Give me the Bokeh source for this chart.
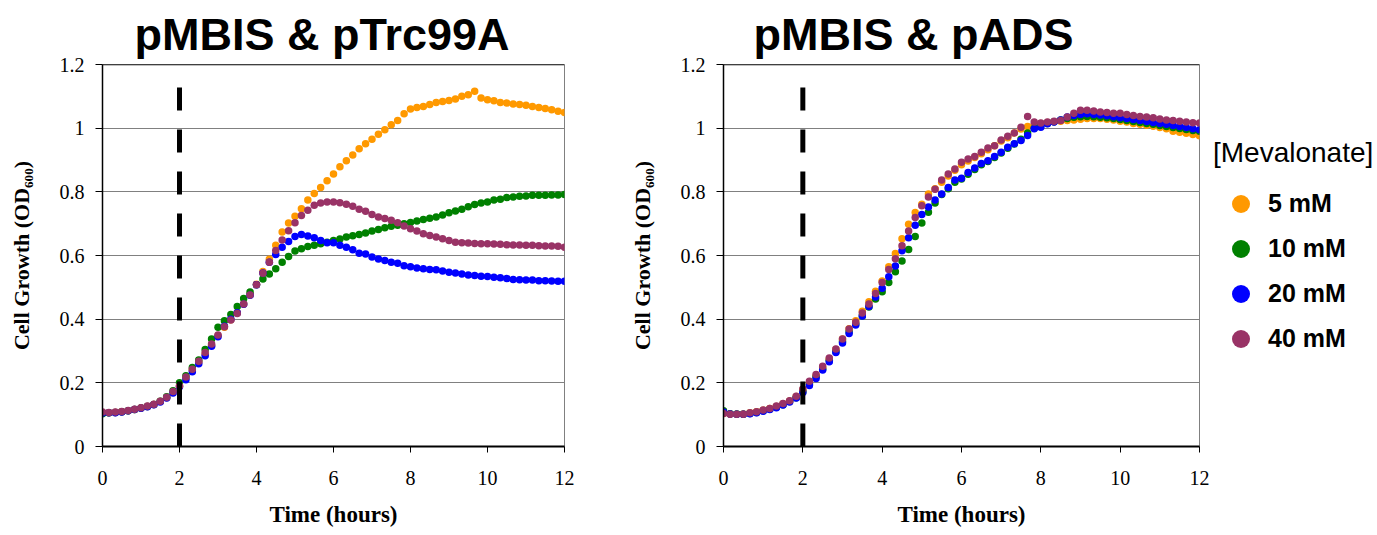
from bokeh.plotting import figure
from bokeh.layouts import row
from bokeh.models import Legend, LegendItem, FixedTicker, Range1d, Span
from bokeh.embed import file_html
from bokeh.resources import INLINE

# one reading every 10 minutes, 0 to 12 h
sample_minutes = list(range(0, 721, 10))
hours = [m / 60 for m in sample_minutes]

conc_labels = ["5 mM", "10 mM", "20 mM", "40 mM"]
colors = ["#FF9900", "#008000", "#0000FF", "#993366"]

# ---- pMBIS & pTrc99A (OD600) ----
trc_5mM = [0.106, 0.106, 0.107, 0.109, 0.112, 0.116, 0.121, 0.126, 0.132, 0.141, 0.153, 0.170,
           0.190, 0.215, 0.240, 0.265, 0.290, 0.318, 0.348, 0.375, 0.398, 0.420, 0.448, 0.478,
           0.510, 0.550, 0.588, 0.632, 0.674, 0.702, 0.723, 0.747, 0.774, 0.795, 0.814, 0.835,
           0.856, 0.879, 0.898, 0.916, 0.935, 0.951, 0.965, 0.981, 0.995, 1.011, 1.024, 1.045,
           1.060, 1.065, 1.068, 1.074, 1.081, 1.084, 1.087, 1.092, 1.100, 1.105, 1.116, 1.095,
           1.089, 1.086, 1.081, 1.079, 1.076, 1.074, 1.072, 1.068, 1.065, 1.062, 1.058, 1.053, 1.049]
trc_10mM = [0.103, 0.106, 0.107, 0.109, 0.112, 0.116, 0.121, 0.126, 0.132, 0.142, 0.156, 0.175,
            0.200, 0.222, 0.248, 0.272, 0.305, 0.338, 0.375, 0.395, 0.415, 0.440, 0.465, 0.485,
            0.508, 0.526, 0.542, 0.558, 0.579, 0.597, 0.614, 0.621, 0.628, 0.632, 0.637, 0.642,
            0.647, 0.652, 0.658, 0.662, 0.666, 0.671, 0.677, 0.682, 0.687, 0.692, 0.695, 0.700,
            0.704, 0.708, 0.713, 0.717, 0.721, 0.727, 0.734, 0.740, 0.745, 0.753, 0.760, 0.765,
            0.768, 0.774, 0.777, 0.782, 0.784, 0.786, 0.787, 0.789, 0.789, 0.789, 0.790, 0.790, 0.792]
trc_20mM = [0.105, 0.106, 0.106, 0.108, 0.112, 0.116, 0.120, 0.125, 0.131, 0.140, 0.152, 0.168,
            0.188, 0.210, 0.235, 0.260, 0.285, 0.315, 0.345, 0.378, 0.400, 0.420, 0.447, 0.475,
            0.508, 0.545, 0.579, 0.603, 0.626, 0.644, 0.660, 0.666, 0.661, 0.656, 0.647, 0.640,
            0.640, 0.632, 0.626, 0.618, 0.607, 0.605, 0.595, 0.589, 0.584, 0.579, 0.576, 0.568,
            0.565, 0.561, 0.558, 0.556, 0.555, 0.551, 0.547, 0.545, 0.542, 0.539, 0.537, 0.535,
            0.534, 0.532, 0.530, 0.528, 0.525, 0.524, 0.523, 0.523, 0.521, 0.521, 0.520, 0.519, 0.519]
trc_40mM = [0.108, 0.107, 0.108, 0.110, 0.113, 0.117, 0.122, 0.127, 0.133, 0.142, 0.155, 0.173,
            0.190, 0.218, 0.243, 0.268, 0.295, 0.322, 0.350, 0.376, 0.397, 0.418, 0.448, 0.476,
            0.508, 0.544, 0.579, 0.616, 0.649, 0.678, 0.703, 0.726, 0.742, 0.758, 0.765, 0.768,
            0.768, 0.766, 0.761, 0.755, 0.745, 0.739, 0.729, 0.721, 0.716, 0.711, 0.703, 0.693,
            0.684, 0.677, 0.668, 0.663, 0.658, 0.653, 0.647, 0.642, 0.640, 0.639, 0.638, 0.637,
            0.637, 0.636, 0.635, 0.634, 0.633, 0.633, 0.632, 0.632, 0.631, 0.630, 0.630, 0.629, 0.626]

# ---- pMBIS & pADS (OD600) ----
ads_5mM = [0.104, 0.102, 0.101, 0.102, 0.106, 0.109, 0.114, 0.119, 0.126, 0.134, 0.143, 0.157,
           0.178, 0.200, 0.222, 0.248, 0.275, 0.305, 0.338, 0.370, 0.395, 0.425, 0.455, 0.488,
           0.520, 0.565, 0.606, 0.653, 0.698, 0.735, 0.761, 0.793, 0.810, 0.830, 0.850, 0.868,
           0.885, 0.897, 0.908, 0.920, 0.932, 0.945, 0.960, 0.970, 0.985, 0.997, 1.005, 1.010,
           1.015, 1.018, 1.020, 1.022, 1.024, 1.026, 1.028, 1.030, 1.030, 1.030, 1.028, 1.026,
           1.022, 1.019, 1.015, 1.012, 1.009, 1.006, 1.002, 0.998, 0.990, 0.987, 0.984, 0.980, 0.976]
ads_10mM = [0.112, 0.103, 0.102, 0.101, 0.104, 0.107, 0.112, 0.117, 0.123, 0.131, 0.141, 0.153,
            0.172, 0.196, 0.218, 0.243, 0.270, 0.298, 0.330, 0.360, 0.385, 0.410, 0.438, 0.463,
            0.486, 0.515, 0.549, 0.583, 0.619, 0.660, 0.702, 0.736, 0.765, 0.792, 0.810, 0.830,
            0.840, 0.855, 0.870, 0.885, 0.895, 0.908, 0.922, 0.937, 0.950, 0.965, 0.985, 1.000,
            1.008, 1.015, 1.020, 1.026, 1.030, 1.034, 1.036, 1.037, 1.036, 1.034, 1.033, 1.030,
            1.027, 1.024, 1.021, 1.018, 1.015, 1.012, 1.008, 1.005, 1.002, 0.999, 0.996, 0.993, 0.990]
ads_20mM = [0.108, 0.102, 0.101, 0.101, 0.103, 0.106, 0.111, 0.116, 0.122, 0.130, 0.140, 0.152,
            0.170, 0.192, 0.214, 0.240, 0.266, 0.295, 0.325, 0.355, 0.382, 0.410, 0.440, 0.470,
            0.497, 0.533, 0.567, 0.615, 0.656, 0.695, 0.729, 0.752, 0.774, 0.793, 0.814, 0.837,
            0.843, 0.861, 0.875, 0.889, 0.898, 0.911, 0.924, 0.940, 0.951, 0.961, 0.977, 0.998,
            1.003, 1.014, 1.019, 1.026, 1.035, 1.040, 1.043, 1.045, 1.043, 1.041, 1.039, 1.036,
            1.033, 1.030, 1.027, 1.024, 1.021, 1.018, 1.015, 1.012, 1.008, 1.005, 1.002, 0.998, 0.995]
ads_40mM = [0.104, 0.101, 0.101, 0.101, 0.106, 0.109, 0.115, 0.119, 0.127, 0.135, 0.144, 0.158,
            0.181, 0.205, 0.226, 0.252, 0.278, 0.306, 0.338, 0.369, 0.390, 0.419, 0.448, 0.481,
            0.515, 0.556, 0.590, 0.631, 0.677, 0.719, 0.756, 0.784, 0.808, 0.837, 0.856, 0.872,
            0.893, 0.903, 0.911, 0.924, 0.938, 0.945, 0.963, 0.975, 0.985, 1.003, 1.037, 1.019,
            1.016, 1.019, 1.022, 1.024, 1.035, 1.047, 1.056, 1.056, 1.054, 1.051, 1.049, 1.047,
            1.047, 1.043, 1.040, 1.037, 1.035, 1.033, 1.029, 1.026, 1.024, 1.022, 1.019, 1.017, 1.016]

x_ticks = [0, 2, 4, 6, 8, 10, 12]
x_tick_labels = ["0", "2", "4", "6", "8", "10", "12"]
y_ticks = [0, 0.2, 0.4, 0.6, 0.8, 1.0, 1.2]
y_tick_labels = ["0", "0.2", "0.4", "0.6", "0.8", "1", "1.2"]
induction_time_h = 2
induction_line_top = 1.185

titles = ["pMBIS & pTrc99A", "pMBIS & pADS"]
y_label = "Cell Growth (OD\u2086\u2080\u2080)"
x_label = "Time (hours)"
legend_title = "[Mevalonate]"

for s in (trc_5mM, trc_10mM, trc_20mM, trc_40mM, ads_5mM, ads_10mM, ads_20mM, ads_40mM):
    assert len(s) == len(hours), len(s)

SANS = "Liberation Sans"
SERIF = "Liberation Serif"
FIG_H = 534


def make_panel(title, series, width, bl, br, bt, frame_h, title_offset):
    p = figure(width=width, height=FIG_H,
               x_range=Range1d(x_ticks[0], x_ticks[-1]),
               y_range=Range1d(y_ticks[0], y_ticks[-1]),
               output_backend="svg", toolbar_location=None,
               min_border_left=bl, min_border_right=br, min_border_top=bt,
               min_border_bottom=FIG_H - bt - frame_h)
    p.background_fill_color = "white"
    p.border_fill_color = "white"
    p.outline_line_color = "#808080"
    p.outline_line_width = 1

    p.title.text = title
    p.title.text_font = SANS
    p.title.text_font_size = "45px"
    p.title.text_font_style = "bold"
    p.title.text_color = "black"
    p.title.align = "left"
    p.title.offset = title_offset
    p.title.standoff = 9

    p.xgrid.visible = False
    p.ygrid.ticker = FixedTicker(ticks=y_ticks)
    p.ygrid.grid_line_color = "#808080"
    p.ygrid.grid_line_width = 1
    p.add_layout(Span(location=y_ticks[-1], dimension="width", line_color="black", line_width=1.5))

    xa = p.xaxis[0]
    xa.ticker = FixedTicker(ticks=x_ticks)
    xa.major_label_overrides = {t: l for t, l in zip(x_ticks, x_tick_labels)}
    xa.axis_line_color = "black"
    xa.axis_line_width = 2
    xa.major_tick_line_color = "black"
    xa.major_tick_out = 6
    xa.major_tick_in = 0
    xa.minor_tick_line_color = None
    xa.major_label_text_font = SERIF
    xa.major_label_text_font_size = "20px"
    xa.major_label_text_color = "black"
    xa.major_label_standoff = 18
    xa.axis_label = x_label
    xa.axis_label_text_font = SERIF
    xa.axis_label_text_font_size = "23px"
    xa.axis_label_text_font_style = "bold"
    xa.axis_label_text_color = "black"
    xa.axis_label_standoff = 14

    ya = p.yaxis[0]
    ya.ticker = FixedTicker(ticks=y_ticks)
    ya.major_label_overrides = {t: l for t, l in zip(y_ticks, y_tick_labels)}
    ya.axis_line_color = "black"
    ya.axis_line_width = 1.5
    ya.major_tick_line_color = "black"
    ya.major_tick_out = 7
    ya.major_tick_in = 0
    ya.minor_tick_line_color = None
    ya.major_label_text_font = SERIF
    ya.major_label_text_font_size = "20px"
    ya.major_label_text_color = "black"
    ya.major_label_standoff = 11
    ya.axis_label = y_label
    ya.axis_label_text_font = SERIF
    ya.axis_label_text_font_size = "22px"
    ya.axis_label_text_font_style = "bold"
    ya.axis_label_text_color = "black"
    ya.axis_label_standoff = 23

    renderers = []
    for vals, c in zip(series, colors):
        r = p.scatter(hours, vals, size=7.5, fill_color=c, line_color=None)
        renderers.append(r)

    p.line([induction_time_h, induction_time_h], [y_ticks[0], induction_line_top],
           line_color="black", line_width=5, line_dash="23 19")
    return p, renderers


p1, _ = make_panel(titles[0], [trc_5mM, trc_10mM, trc_20mM, trc_40mM],
                   width=620, bl=102, br=56, bt=64, frame_h=382, title_offset=32)
p2, _ = make_panel(titles[1], [ads_5mM, ads_10mM, ads_20mM, ads_40mM],
                   width=590, bl=103, br=11, bt=63, frame_h=384, title_offset=30)

# legend panel: key for the concentration colours (same pADS series, drawn off-range)
p3 = figure(width=167, height=FIG_H, x_range=Range1d(-20, -19), y_range=Range1d(-20, -19),
            x_axis_location=None, y_axis_location=None,
            output_backend="svg", toolbar_location=None,
            min_border_left=0, min_border_right=0, min_border_top=0, min_border_bottom=0)
p3.outline_line_color = None
p3.grid.visible = False
p3.background_fill_color = "white"
p3.border_fill_color = "white"
key_renderers = [p3.scatter(hours, vals, fill_color=c, line_color=None)
                 for vals, c in zip([ads_5mM, ads_10mM, ads_20mM, ads_40mM], colors)]

legend = Legend(items=[LegendItem(label=l, renderers=[r]) for l, r in zip(conc_labels, key_renderers)],
                location=(3, 85), orientation="vertical",
                title=legend_title, title_text_font=SANS, title_text_font_size="28px",
                title_text_font_style="normal", title_text_color="black", title_standoff=12,
                label_text_font=SANS, label_text_font_size="25px", label_text_font_style="bold",
                label_text_color="black", label_standoff=0, label_height=45,
                glyph_width=55, glyph_height=45, spacing=0,
                padding=0, margin=0, border_line_color=None, background_fill_alpha=0)
p3.add_layout(legend)

layout = row(p1, p2, p3, spacing=0)
open("out.html", "w").write(file_html(layout, INLINE))
